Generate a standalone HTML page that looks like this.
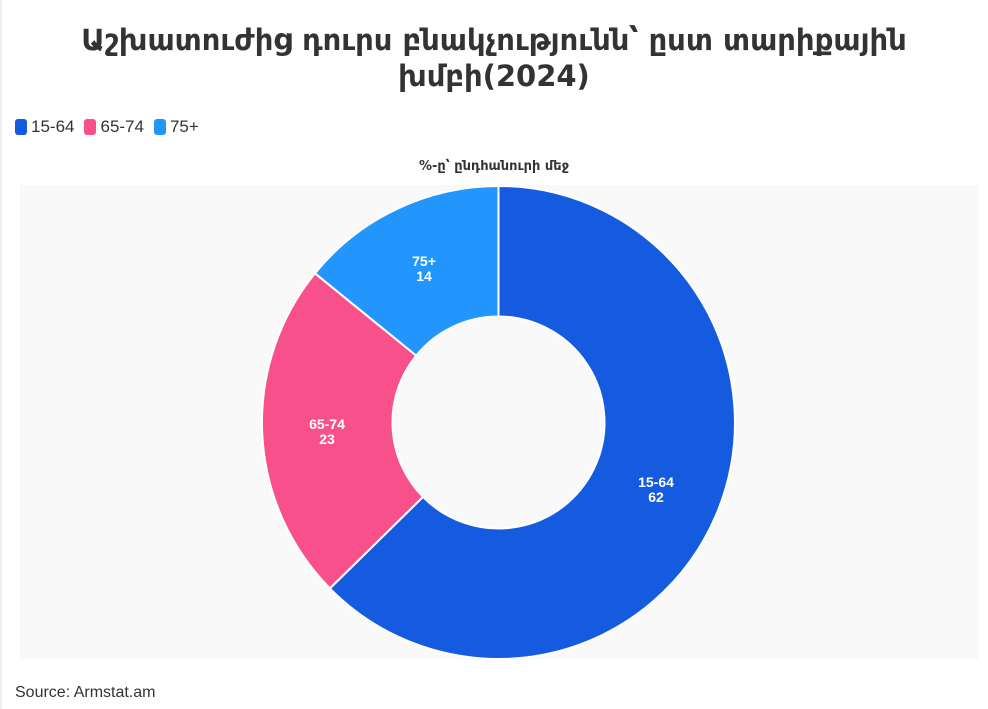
<!DOCTYPE html>
<html><head><meta charset="utf-8"><style>
body{margin:0;width:988px;height:708px;background:#fff;position:relative;font-family:"Liberation Sans","DejaVu Sans",sans-serif;overflow:hidden}
.t{position:absolute;left:0;width:988px;text-align:center;font-family:"DejaVu Sans","Liberation Sans",sans-serif;font-weight:bold;font-size:29px;color:#333;line-height:36px}
.lg{position:absolute;top:117px;left:15px;font-size:17px;color:#333;display:flex;gap:10px;align-items:center}
.lg span{display:inline-flex;align-items:center}
.lg i{display:inline-block;width:12px;height:16px;border-radius:3px;margin-right:4px}
.lb{position:absolute;left:0;top:-1px;width:2px;height:710px;background:#eee}
</style></head><body>
<div class="lb"></div>
<div class="t" style="top:22px">Աշխատուժից դուրս բնակչությունն՝ ըստ տարիքային</div>
<div class="t" style="top:58px">խմբի(2024)</div>
<div class="lg"><span><i style="background:#145be0"></i>15-64</span><span><i style="background:#f7508b"></i>65-74</span><span><i style="background:#2296fd"></i>75+</span></div>
<div style="position:absolute;top:159px;left:0;width:988px;text-align:center;font-family:'DejaVu Sans',sans-serif;font-weight:bold;font-size:13px;color:#333">%-ը՝ ընդհանուրի մեջ</div>
<svg style="position:absolute;left:0;top:0" width="988" height="708">
<rect x="20" y="185" width="958" height="474" fill="#f9f9f9"/>
<g stroke="#fff" stroke-width="2" stroke-linejoin="round">
<path d="M498.5,186 A236.5,236.5 0 1 1 329.9,588.4 L423,496.9 A106,106 0 1 0 498.5,316.5 Z" fill="#145be0"/>
<path d="M329.9,588.4 A236.5,236.5 0 0 1 315,273.3 L416.2,355.6 A106,106 0 0 0 423,496.9 Z" fill="#f7508b"/>
<path d="M315,273.3 A236.5,236.5 0 0 1 498.5,186 L498.5,316.5 A106,106 0 0 0 416.2,355.6 Z" fill="#2296fd"/>
</g>
<g fill="#fff" font-weight="bold" font-size="14" text-anchor="middle" font-family="Liberation Sans,sans-serif">
<text x="656" y="487">15-64</text><text x="656" y="502">62</text>
<text x="327" y="429">65-74</text><text x="327" y="444">23</text>
<text x="424" y="266">75+</text><text x="424" y="281">14</text>
</g>
</svg>
<div style="position:absolute;left:15px;top:684px;font-size:16px;color:#333">Source: Armstat.am</div>
</body></html>
